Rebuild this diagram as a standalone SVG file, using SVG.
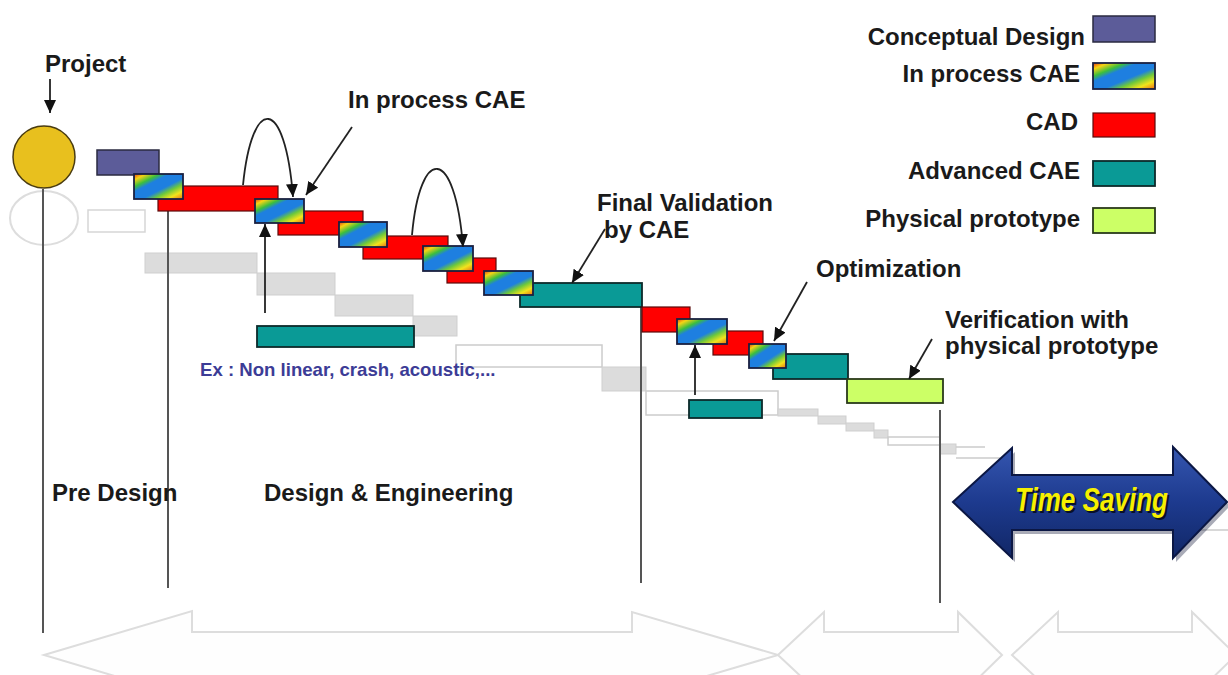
<svg xmlns="http://www.w3.org/2000/svg" width="1228" height="675" viewBox="0 0 1228 675">
<defs>
<linearGradient id="rainbow" x1="0" y1="0" x2="1" y2="1">
<stop offset="0" stop-color="#e83a10"/>
<stop offset="0.12" stop-color="#f6d414"/>
<stop offset="0.26" stop-color="#3cbf3c"/>
<stop offset="0.36" stop-color="#1e7fe0"/>
<stop offset="0.58" stop-color="#1e7fe0"/>
<stop offset="0.7" stop-color="#6cc83c"/>
<stop offset="0.84" stop-color="#f2e41c"/>
<stop offset="1" stop-color="#ef6a12"/>
</linearGradient>
<linearGradient id="blueArrow" x1="0" y1="0" x2="0" y2="1">
<stop offset="0" stop-color="#3556b0"/>
<stop offset="0.5" stop-color="#1d3a8e"/>
<stop offset="1" stop-color="#112766"/>
</linearGradient>
<marker id="ah" markerWidth="14" markerHeight="12" refX="13" refY="6" orient="auto" markerUnits="userSpaceOnUse">
<path d="M0,0 L13,6 L0,12 Z" fill="#111"/>
</marker>
<style>
.lbl{font-family:"Liberation Sans",Arial,sans-serif;font-weight:bold;font-size:24px;fill:#1a1a1a}
.cd{fill:#5c5c99;stroke:#2a2a40;stroke-width:1.5}
.cae{fill:url(#rainbow);stroke:#1a2040;stroke-width:1.8}
.cad{fill:#ff0000;stroke:#5a0a0a;stroke-width:1.2}
.adv{fill:#0a9a96;stroke:#0d2a2a;stroke-width:1.8}
.phy{fill:#ccff66;stroke:#2a3a1a;stroke-width:1.8}
.vline{stroke:#555;stroke-width:2;fill:none}
.conn{stroke:#222;stroke-width:1.8;fill:none;marker-end:url(#ah)}
.ghost{fill:#dcdcdc;stroke:#cfcfcf;stroke-width:1}
.ghostline{fill:none;stroke:#cccccc;stroke-width:1.5}
.big{fill:#fefefe;stroke:#dddddd;stroke-width:2}
</style>
</defs>
<rect width="1228" height="675" fill="#ffffff"/>

<!-- faint background arrows -->
<g id="phase-arrows">
<polygon class="big" points="44,655 192,611 192,632 632,632 632,612 778,655 632,698 632,677 192,677 192,699"/>
<polygon class="big" points="778,655 824,612 824,632 958,632 958,612 1002,655 958,698 958,677 824,677 824,698"/>
<polygon class="big" points="1012,655 1058,612 1058,632 1192,632 1192,612 1236,655 1192,698 1192,677 1058,677 1058,698"/>
</g>

<!-- ghost (traditional) staircase -->
<g id="ghost-steps">
<ellipse cx="44" cy="218" rx="34" ry="27" fill="none" stroke="#dddddd" stroke-width="2"/>
<rect x="88" y="210" width="57" height="22" fill="#fff" stroke="#d6d6d6" stroke-width="1.5"/>
<rect class="ghost" x="145" y="253" width="112" height="20"/>
<rect class="ghost" x="257" y="273" width="78" height="22"/>
<rect class="ghost" x="335" y="295" width="78" height="21"/>
<rect class="ghost" x="413" y="316" width="44" height="20"/>
<rect class="ghostline" x="456" y="345" width="146" height="22"/>
<rect class="ghost" x="602" y="367" width="44" height="24"/>
<rect class="ghostline" x="646" y="391" width="132" height="24"/>
<rect class="ghost" x="778" y="409" width="40" height="7"/>
<rect class="ghost" x="818" y="416" width="28" height="8"/>
<rect class="ghost" x="846" y="423" width="28" height="8"/>
<rect class="ghost" x="874" y="430" width="14" height="8"/>
<rect class="ghostline" x="888" y="437" width="52" height="8"/>
<rect class="ghost" x="940" y="444" width="16" height="10"/>
<path class="ghostline" d="M956,447 H985 M956,458 H1000 M1195,530 H1228"/>
</g>

<!-- vertical phase lines -->
<g id="phase-lines">
<line class="vline" x1="43" y1="189" x2="43" y2="633"/>
<line class="vline" x1="168" y1="211" x2="168" y2="588"/>
<line class="vline" x1="641" y1="307" x2="641" y2="583"/>
<line class="vline" x1="940" y1="410" x2="940" y2="603"/>
</g>

<!-- project start -->
<g id="project">
<circle cx="44" cy="157" r="31" fill="#e8c01e" stroke="#4a3c10" stroke-width="1.5"/>
<text class="lbl" x="45" y="72">Project</text>
</g>

<!-- task bars -->
<g id="bar-concept"><rect class="cd" x="97" y="150" width="62" height="25"/></g>
<g id="bar-cad1"><rect class="cad" x="158" y="186" width="120" height="25"/></g>
<g id="bar-cae1"><rect class="cae" x="134" y="174" width="49" height="25"/></g>
<g id="bar-cad2"><rect class="cad" x="278" y="211" width="85" height="24"/></g>
<g id="bar-cae2"><rect class="cae" x="255" y="199" width="49" height="24"/></g>
<g id="bar-cad3"><rect class="cad" x="363" y="236" width="85" height="23"/></g>
<g id="bar-cae3"><rect class="cae" x="339" y="222" width="48" height="25"/></g>
<g id="bar-cad4"><rect class="cad" x="447" y="258" width="49" height="25"/></g>
<g id="bar-cae4"><rect class="cae" x="423" y="246" width="50" height="25"/></g>
<g id="bar-final"><rect class="adv" x="520" y="283" width="122" height="24"/></g>
<g id="bar-cae5"><rect class="cae" x="484" y="271" width="49" height="24"/></g>
<g id="bar-cad5"><rect class="cad" x="642" y="307" width="48" height="25"/></g>
<g id="bar-cad6"><rect class="cad" x="713" y="331" width="50" height="24"/></g>
<g id="bar-cae6"><rect class="cae" x="677" y="319" width="50" height="25"/></g>
<g id="bar-adv2"><rect class="adv" x="773" y="354" width="75" height="25"/></g>
<g id="bar-cae7"><rect class="cae" x="749" y="344" width="37" height="24"/></g>
<g id="bar-proto"><rect class="phy" x="847" y="379" width="96" height="24"/></g>
<g id="bar-adv-long"><rect class="adv" x="257" y="326" width="157" height="21"/></g>
<g id="bar-adv-small"><rect class="adv" x="689" y="400" width="73" height="18"/></g>

<!-- connectors -->
<g id="connectors">
<line class="conn" x1="50" y1="79" x2="50" y2="113"/>
<path class="conn" d="M243,185 C252,95 285,95 293,197"/>
<path class="conn" d="M412,235 C420,145 455,145 463,247"/>
<line class="conn" x1="352" y1="127" x2="306" y2="195"/>
<line class="conn" x1="265" y1="313" x2="265" y2="224"/>
<line class="conn" x1="695" y1="395" x2="695" y2="345"/>
<line class="conn" x1="605" y1="229" x2="572" y2="283"/>
<line class="conn" x1="807" y1="282" x2="774" y2="341"/>
<line class="conn" x1="932" y1="339" x2="909" y2="379"/>
</g>

<!-- labels -->
<g id="labels">
<text class="lbl" x="348" y="108">In process CAE</text>
<text class="lbl" x="597" y="211">Final Validation</text>
<text class="lbl" x="604" y="238">by CAE</text>
<text class="lbl" x="816" y="277">Optimization</text>
<text class="lbl" x="945" y="328">Verification with</text>
<text class="lbl" x="945" y="354">physical prototype</text>
<text x="200" y="376" font-family="'Liberation Sans',Arial,sans-serif" font-weight="bold" font-size="18.6" fill="#3c3c96">Ex : Non linear, crash, acoustic,...</text>
<text class="lbl" x="52" y="501">Pre Design</text>
<text class="lbl" x="264" y="501">Design &amp; Engineering</text>
</g>

<!-- legend -->
<g id="legend">
<g id="legend-concept"><text class="lbl" x="1085" y="45" text-anchor="end">Conceptual Design</text><rect class="cd" x="1093" y="16" width="62" height="26"/></g>
<g id="legend-cae"><text class="lbl" x="1080" y="82" text-anchor="end">In process CAE</text><rect class="cae" x="1093" y="63" width="62" height="26"/></g>
<g id="legend-cad"><text class="lbl" x="1078" y="130" text-anchor="end">CAD</text><rect class="cad" x="1093" y="113" width="62" height="24"/></g>
<g id="legend-adv"><text class="lbl" x="1080" y="179" text-anchor="end">Advanced CAE</text><rect class="adv" x="1093" y="161" width="62" height="25"/></g>
<g id="legend-phy"><text class="lbl" x="1080" y="227" text-anchor="end">Physical prototype</text><rect class="phy" x="1093" y="208" width="62" height="25"/></g>
</g>

<!-- time saving arrow -->
<g id="time-saving">
<polygon points="956,506 1015,452 1015,479 1176,479 1176,451 1230,506 1176,562 1176,534 1015,534 1015,562" fill="#0a0f30" opacity="0.35"/>
<polygon points="953,502 1012,448 1012,475 1173,475 1173,447 1227,502 1173,558 1173,530 1012,530 1012,558" fill="url(#blueArrow)" stroke="#0b1744" stroke-width="2"/>
<text x="1017" y="513" font-family="'Liberation Sans',Arial,sans-serif" font-weight="bold" font-style="italic" font-size="34" textLength="153" lengthAdjust="spacingAndGlyphs" fill="#000" opacity="0.7">Time Saving</text>
<text x="1015" y="511" font-family="'Liberation Sans',Arial,sans-serif" font-weight="bold" font-style="italic" font-size="34" textLength="153" lengthAdjust="spacingAndGlyphs" fill="#f6f000">Time Saving</text>
</g>
</svg>
